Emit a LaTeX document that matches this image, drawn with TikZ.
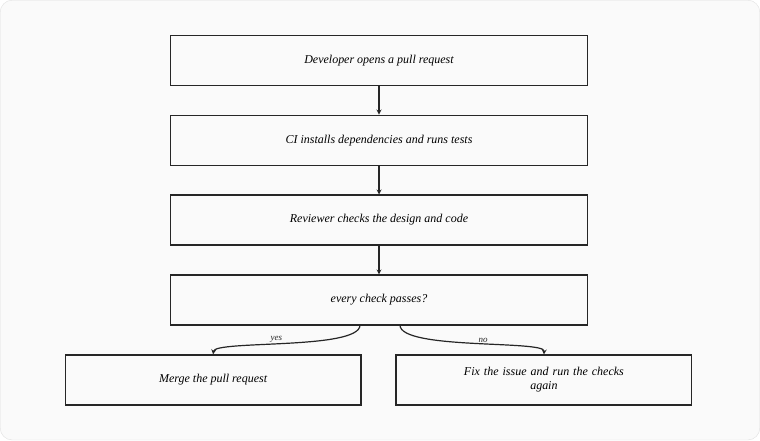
\documentclass[tikz,border=0pt]{standalone}
\usepackage{fontspec}
\setmainfont{Liberation Serif}
\usetikzlibrary{positioning}
\begin{document}
\begin{tikzpicture}
[x=1pt,y=-1pt,
 every node/.style={font=\itshape\fontsize{12}{14}\selectfont},
 stage/.style={draw=black!85,very thick,rectangle,minimum width=418pt,minimum height=50pt,inner sep=0pt},
 leaf/.style={stage,minimum width=296pt},
 flow/.style={->,>=stealth,very thick,black!85},
 tag/.style={font=\itshape\fontsize{9}{10}\selectfont,inner sep=1pt}]
\path[use as bounding box,fill=black!2,draw=black!12,rounded corners=12pt] (0,0) rectangle (760,440);
\node[stage] (pr)     at (379,60)  {Developer opens a pull request};
\node[stage] (ci)     at (379,140) {CI installs dependencies and runs tests};
\node[stage] (review) at (379,220) {Reviewer checks the design and code};
\node[stage] (check)  at (379,300) {every check passes?};
\node[leaf] (merge)   at (213,380) {Merge the pull request};
\node[leaf,text width=220pt,align=center] (fix) at (544,380) {Fix the issue and run the checks\\ again};
\draw[flow] (pr) -- (ci);
\draw[flow] (ci) -- (review);
\draw[flow] (review) -- (check);
\coordinate (cy) at (360,325);
\coordinate (cn) at (400,325);
\draw[flow] (cy) .. controls (360,350) and (215,340) .. node[tag,pos=0.55,above] {yes} (merge.north);
\draw[flow] (cn) .. controls (400,350) and (545,340) .. node[tag,pos=0.55,above] {no} (fix.north);
\end{tikzpicture}
\end{document}
